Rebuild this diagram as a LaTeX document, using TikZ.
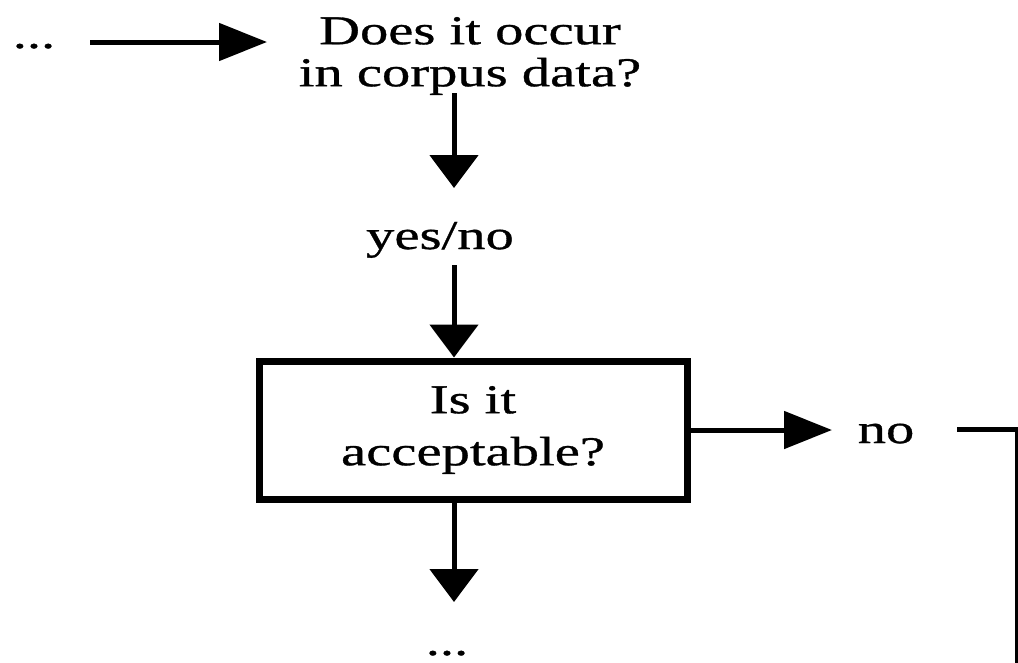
\documentclass[tikz,border=0pt]{standalone}
\usepackage{fontspec}
\setmainfont{Liberation Serif}[FakeStretch=1.38,FakeBold=0.8]
\usetikzlibrary{arrows.meta}
\tikzset{
  txt/.style={inner sep=0pt, font=\fontsize{41}{42}\selectfont, align=center},
  conn/.style={line width=5pt},
  varrow/.style={conn, -{Triangle[length=33pt,width=48pt]}},
  harrow/.style={conn, -{Triangle[length=48pt,width=37pt]}},
  qbox/.style={draw, line width=7pt, minimum width=428pt, minimum height=138pt, inner sep=0pt,
    font=\fontsize{41}{52}\selectfont, align=center}
}
\begin{document}
\begin{tikzpicture}[x=1pt,y=-1pt]
\useasboundingbox (0,0) rectangle (1018,662);
% nodes
\node[txt, anchor=base] (dotsA) at (34,48) {...};
\node[txt] (q1) at (470,56) {Does it occur\\in corpus data?};
\node[txt, anchor=base] (yn) at (440,249) {yes/no};
\node[qbox] (q2) at (473,430) {Is it\\acceptable?};
\node[txt, anchor=base] (no) at (886,443) {no};
\node[txt, anchor=base] (dotsB) at (447,655) {...};
% connector end points
\coordinate (a1s) at (90,42);
\coordinate (a1e) at (267,42);
\coordinate (a2s) at (454,93);
\coordinate (a2e) at (454,188);
\coordinate (a3s) at (454,265);
\coordinate (a4e) at (832,430);
\coordinate (a5e) at (454,602);
\coordinate (rs) at (957,429);
\coordinate (rc) at (1017,429);
\coordinate (re) at (1017,670);
% connectors
\draw[harrow] (a1s) -- (a1e);
\draw[varrow] (a2s) -- (a2e);
\draw[varrow] (a3s) -- (a3s |- q2.north);
\draw[harrow] (q2.east |- a4e) -- (a4e);
\draw[varrow] (q2.south -| a5e) -- (a5e);
\draw[conn] (rs) -- (rc) -- (re);
\end{tikzpicture}
\end{document}
